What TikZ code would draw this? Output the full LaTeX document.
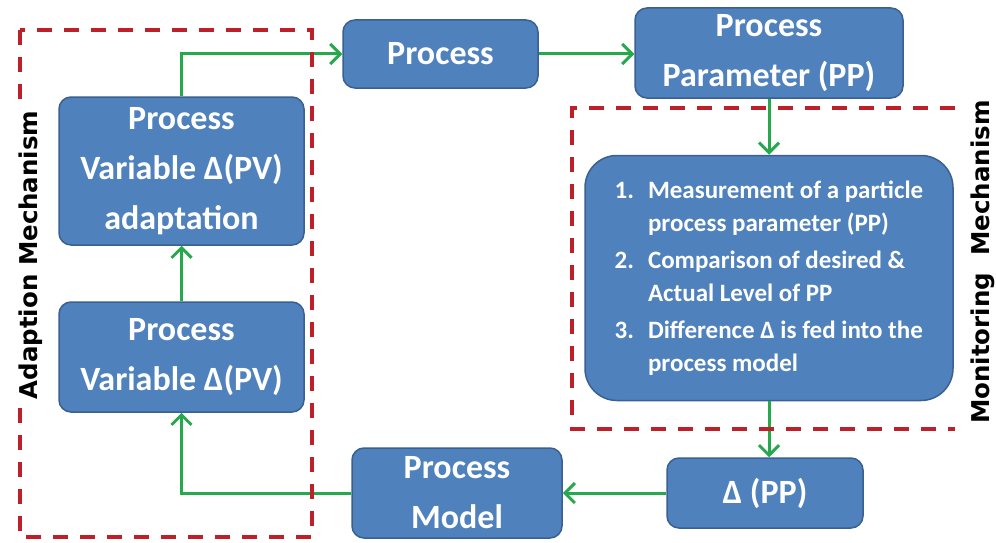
\documentclass[tikz,border=0pt]{standalone}
\usepackage{fontspec}
\setmainfont{Carlito}
\newfontfamily\labelfont{DejaVu Sans}
\usetikzlibrary{arrows.meta,positioning}
\definecolor{boxblue}{RGB}{79,129,189}
\definecolor{boxedge}{RGB}{58,96,145}
\definecolor{flowgreen}{RGB}{38,168,76}
\definecolor{mechred}{RGB}{190,32,42}

\begin{document}
\begin{tikzpicture}[x=1pt, y=-1pt,
    blk/.style={rounded corners=12pt, draw=boxedge, fill=boxblue, line width=1.5pt, text=white, align=center, inner sep=0pt, font=\fontsize{34}{50}\selectfont\bfseries},
    flow/.style={draw=flowgreen, line width=3pt, -{Straight Barb[length=10pt,width=20pt]}},
    mech/.style={draw=mechred, line width=4pt, dash pattern=on 15pt off 12pt},
    mechlabel/.style={rotate=90, fill=white, inner sep=2pt, font=\labelfont\bfseries\fontsize{24.5}{28}\selectfont}
  ]
  \useasboundingbox (0,0) rectangle (996,543);

  % Top row
  \node[blk, minimum width=195pt, minimum height=68pt] (proc) at (440.5,54) {Process};
  \node[blk, minimum width=268pt, minimum height=90pt] (pp) at (769,53) {Process\\Parameter (PP)};

  % Adaption side
  \node[blk, minimum width=245pt, minimum height=148pt] (adapt) at (181.5,171) {Process\\Variable Δ(PV)\\adaptation};
  \node[blk, minimum width=245pt, minimum height=110pt] (pv) at (181.5,357) {Process\\Variable Δ(PV)};

  % Monitoring side
  \node[blk, rounded corners=32pt, minimum width=368pt, minimum height=245pt, font=\fontsize{25}{33}\selectfont\bfseries] (mon) at (769,278) {%
    \begin{tabular}{@{}l@{\hspace{14pt}}l@{}}
      1. & Measurement of a particle\\
         & process parameter (PP)\\[4pt]
      2. & Comparison of desired \&\\
         & Actual Level of PP\\[4pt]
      3. & Difference Δ is fed into the\\
         & process model
    \end{tabular}};

  % Bottom row
  \node[blk, minimum width=196pt, minimum height=70pt] (dpp) at (765,493) {Δ (PP)};
  \node[blk, minimum width=210pt, minimum height=90pt] (model) at (457,493) {Process\\Model};

  % Flow
  \draw[flow] (adapt.north) |- (proc.west);
  \draw[flow] (proc.east) -- (proc.east -| pp.west);
  \draw[flow] (pp.south) -- (mon.north);
  \draw[flow] (mon.south) -- (mon.south |- dpp.north);
  \draw[flow] (dpp.west) -- (model.east);
  \draw[flow] (model.west) -| (pv.south);
  \draw[flow] (pv.north) -- (adapt.south);

  % Mechanism frames
  \draw[mech] (20,30) rectangle (312,537);
  \draw[mech] (955,108) -- (572,108) -- (572,429) -- (955,429);
  \node[mechlabel] (adlabel) at (31,255) {Adaption Mechanism};
  \node[mechlabel] (molabel) at (983,262) {Monitoring\ \ Mechanism};
\end{tikzpicture}
\end{document}
